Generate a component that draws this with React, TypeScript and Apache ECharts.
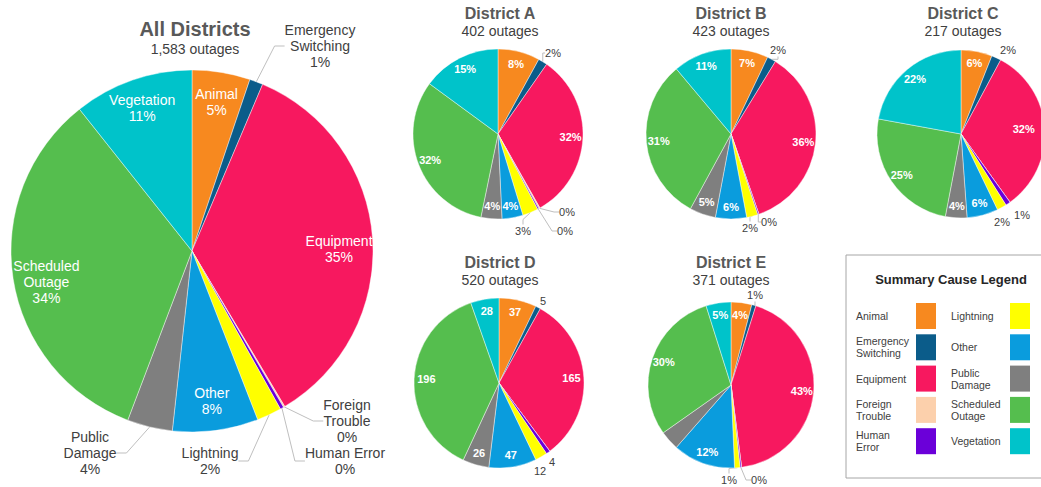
import { useEffect, useRef } from "react";
import * as echarts from "echarts";

const categories = ["Animal", "Emergency Switching", "Equipment", "Foreign Trouble", "Human Error", "Lightning", "Other", "Public Damage", "Scheduled Outage", "Vegetation"];
const labelNames = ["Animal", "Emergency\nSwitching", "Equipment", "Foreign\nTrouble", "Human Error", "Lightning", "Other", "Public\nDamage", "Scheduled\nOutage", "Vegetation"];
const legendNames = ["Animal", "Emergency\nSwitching", "Equipment", "Foreign\nTrouble", "Human\nError", "Lightning", "Other", "Public\nDamage", "Scheduled\nOutage", "Vegetation"];
const colors = ["#F7891F", "#0B5C8A", "#F7185F", "#FCD0AC", "#6B00D9", "#FFFF00", "#0A9CDD", "#7F7F7F", "#55BE4E", "#00C3CA"];

const allDistricts = [82, 19, 555, 2, 5, 35, 121, 64, 531, 169];
const districtA = [32, 7, 129, 1, 1, 12, 16, 16, 128, 60];
const districtB = [30, 7, 152, 0, 1, 9, 25, 21, 131, 47];
const districtC = [13, 4, 70, 0, 2, 4, 13, 9, 54, 48];
const districtD = [37, 5, 165, 0, 4, 12, 47, 26, 196, 28];
const districtE = [15, 3, 160, 0, 1, 4, 45, 14, 111, 18];

const FONT = "Liberation Sans, Arial, sans-serif";

type Spot = Record<string, [number, number]>;
type PieCfg = {
  title: string;
  sub: string;
  values: number[];
  cx: number;
  cy: number;
  r: number;
  titleX: number;
  titleTop: number;
  big: boolean;
  insideMin: number;
  showCounts: boolean;
  hidden: string[];
  noLines: boolean;
  outSpots: Spot; // outside label centre, offset from pie centre
  inShift: Spot; // nudge for inside labels
};

const pies: PieCfg[] = [
  {
    title: "All Districts", sub: "1,583 outages", values: allDistricts, cx: 192, cy: 251, r: 181, titleX: 195, titleTop: 19, big: true, insideMin: 5, showCounts: false, hidden: [], noLines: false,
    outSpots: { "Emergency Switching": [128, -205], "Foreign Trouble": [155, 170], "Human Error": [153, 210], Lightning: [18, 210], "Public Damage": [-102, 202] },
    inShift: { "Scheduled Outage": [4, 8], Equipment: [-4, 8] },
  },
  {
    title: "District A", sub: "402 outages", values: districtA, cx: 498, cy: 134, r: 85, titleX: 500, titleTop: 5, big: false, insideMin: 4, showCounts: false, hidden: [], noLines: false,
    outSpots: { "Emergency Switching": [55, -81], "Foreign Trouble": [69, 78], "Human Error": [67, 97], Lightning: [25, 97] },
    inShift: {},
  },
  {
    title: "District B", sub: "423 outages", values: districtB, cx: 731, cy: 134, r: 85, titleX: 731, titleTop: 5, big: false, insideMin: 4, showCounts: false, hidden: [], noLines: false,
    outSpots: { "Emergency Switching": [47, -84], "Human Error": [38, 88], Lightning: [19, 94] },
    inShift: {},
  },
  {
    title: "District C", sub: "217 outages", values: districtC, cx: 961, cy: 134, r: 84, titleX: 963, titleTop: 5, big: false, insideMin: 4, showCounts: false, hidden: [], noLines: true,
    outSpots: { "Emergency Switching": [47, -84], "Human Error": [61, 81], Lightning: [41, 88] },
    inShift: { Equipment: [-9, 0] },
  },
  {
    title: "District D", sub: "520 outages", values: districtD, cx: 499, cy: 383, r: 85, titleX: 500, titleTop: 254, big: false, insideMin: 4, showCounts: true, hidden: [], noLines: true,
    outSpots: { "Emergency Switching": [44, -82], "Human Error": [53, 79], Lightning: [41, 88] },
    inShift: {},
  },
  {
    title: "District E", sub: "371 outages", values: districtE, cx: 731, cy: 385, r: 83, titleX: 731, titleTop: 254, big: false, insideMin: 4, showCounts: false, hidden: ["Public Damage"], noLines: false,
    outSpots: { "Emergency Switching": [24, -90], "Human Error": [28, 95], Lightning: [-2, 95] },
    inShift: {},
  },
];

function buildOption() {
  const series: any[] = [];
  const titles: any[] = [];
  pies.forEach((p) => {
    const total = p.values.reduce((a, b) => a + b, 0);
    const pct = (v: number) => Math.round((v / total) * 100);
    const fmt = (i: number) => {
      const v = p.values[i];
      if (p.showCounts) return String(v);
      if (p.big) return `${labelNames[i]}\n${pct(v)}%`;
      return `${pct(v)}%`;
    };
    const isHidden = (i: number) => p.hidden.includes(categories[i]);
    const outside = (i: number) => p.values[i] > 0 && pct(p.values[i]) < p.insideMin && !isHidden(i);
    const inside = (i: number) => pct(p.values[i]) >= p.insideMin && !isHidden(i);

    titles.push({
      text: p.title,
      subtext: p.sub,
      left: p.titleX,
      top: p.titleTop,
      textAlign: "center",
      itemGap: 3,
      padding: 0,
      textStyle: { fontSize: p.big ? 20 : 16, fontWeight: "bold", color: "#595959", fontFamily: FONT },
      subtextStyle: { fontSize: 14, color: "#404040", fontFamily: FONT },
    });

    series.push({
      type: "pie",
      center: [p.cx, p.cy],
      radius: [0, p.r],
      startAngle: 90,
      clockwise: true,
      animation: false,
      avoidLabelOverlap: false,
      itemStyle: { borderColor: "rgba(255,255,255,0.7)", borderWidth: 0.6 },
      label: {
        position: "outside",
        fontFamily: FONT,
        fontSize: p.big ? 14 : 11,
        lineHeight: p.big ? 16 : 13,
        color: "#404040",
        align: "center",
        overflow: "none",
      },
      labelLine: {
        length: p.big ? 22 : 6,
        length2: p.big ? 10 : 5,
        lineStyle: { color: "#BFBFBF", width: 1 },
      },
      labelLayout: (params: any) => {
        const name = categories[params.dataIndex];
        const s = p.outSpots[name];
        if (!s) return {};
        return { x: p.cx + s[0], y: p.cy + s[1], align: "center", verticalAlign: "middle" };
      },
      emphasis: { disabled: true },
      data: p.values.map((v, i) => ({
        name: categories[i],
        value: v,
        itemStyle: { color: colors[i] },
        label: { show: outside(i), formatter: fmt(i) },
        labelLine: { show: outside(i) && !p.noLines },
      })),
    });

    series.push({
      type: "pie",
      center: [p.cx, p.cy],
      radius: [p.r * 0.64, p.r],
      startAngle: 90,
      clockwise: true,
      silent: true,
      animation: false,
      avoidLabelOverlap: false,
      itemStyle: { color: "rgba(0,0,0,0)" },
      label: {
        position: "inside",
        fontFamily: FONT,
        fontSize: p.big ? 14 : 11,
        lineHeight: p.big ? 16 : 13,
        color: "#FFFFFF",
        fontWeight: p.big ? "normal" : "bold",
        overflow: "none",
      },
      labelLayout: (params: any) => {
        const name = categories[params.dataIndex];
        const s = p.inShift[name];
        if (!s) return {};
        const rc = params.labelRect;
        return { x: rc.x + rc.width / 2 + s[0], y: rc.y + rc.height / 2 + s[1], align: "center", verticalAlign: "middle" };
      },
      labelLine: { show: false },
      emphasis: { disabled: true },
      data: p.values.map((v, i) => ({
        name: categories[i],
        value: v,
        label: { show: inside(i), formatter: fmt(i) },
      })),
    });
  });

  const graphic: any[] = [
    {
      type: "rect",
      shape: { x: 846, y: 255, width: 215, height: 223 },
      style: { fill: "#FFFFFF", stroke: "#A6A6A6", lineWidth: 1 },
      z: 0,
    },
    {
      type: "text",
      style: { text: "Summary Cause Legend", x: 951, y: 279, align: "center", verticalAlign: "middle", fill: "#262626", font: `bold 13px ${FONT}` },
      z: 1,
    },
  ];
  categories.forEach((c, i) => {
    const col = i < 5 ? 0 : 1;
    const row = i % 5;
    const sy = 303 + row * 31.3;
    graphic.push({
      type: "rect",
      shape: { x: col ? 1010 : 916, y: sy, width: 20, height: 26 },
      style: { fill: colors[i] },
      z: 1,
    });
    graphic.push({
      type: "text",
      style: {
        text: legendNames[i],
        x: col ? 951 : 856,
        y: sy + 13,
        align: "left",
        verticalAlign: "middle",
        fill: "#404040",
        font: `10.5px ${FONT}`,
        lineHeight: 12,
      },
      z: 1,
    });
  });

  return {
    animation: false,
    backgroundColor: "#FFFFFF",
    title: titles,
    series,
    graphic,
  };
}

export default function App() {
  const ref = useRef<HTMLDivElement>(null);
  useEffect(() => {
    if (!ref.current) return;
    const chart = echarts.init(ref.current, undefined, { renderer: "svg" });
    chart.setOption(buildOption() as any);
    return () => chart.dispose();
  }, []);
  return <div ref={ref} style={{ position: "absolute", left: 0, top: 0, width: 1041, height: 487 }} />;
}
